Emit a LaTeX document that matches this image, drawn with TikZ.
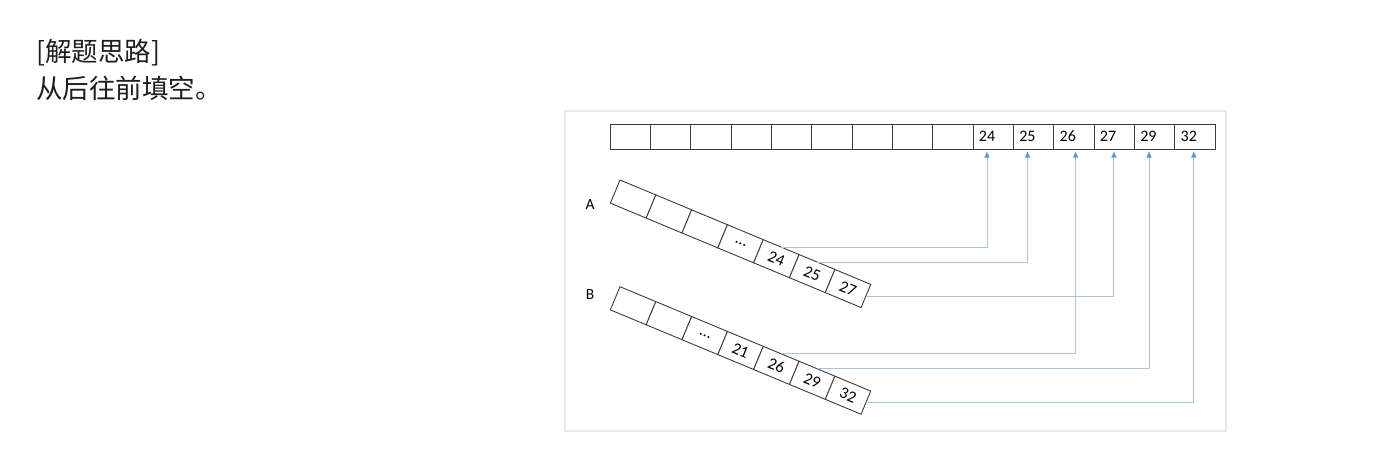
\documentclass[tikz,border=0pt]{standalone}
\usepackage{fontspec}
\setmainfont{Carlito}
\newfontfamily\cjk{Noto Sans CJK SC}
\usetikzlibrary{arrows.meta}
\definecolor{connc}{RGB}{165,198,232}
\definecolor{tipc}{RGB}{91,155,213}
\definecolor{ink}{RGB}{30,30,30}
\definecolor{cellline}{RGB}{60,60,60}
\definecolor{framec}{RGB}{232,232,232}
\begin{document}
\begin{tikzpicture}[x=1pt,y=-1pt,
  topcell/.style={draw=cellline,line width=0.9pt,fill=white,minimum height=25pt,
    inner xsep=6pt,inner ysep=0pt,outer sep=0pt,text width=28.33pt,align=left,
    anchor=north west,font=\fontsize{16}{16}\selectfont,text=black},
  tcell/.style={draw=cellline,line width=0.9pt,fill=white,minimum width=38.8pt,
    minimum height=25.1pt,inner sep=0pt,outer sep=0pt,
    font=\fontsize{16.5}{16.5}\selectfont,text=black},
  lbl/.style={font=\fontsize{15.5}{15.5}\selectfont,text=black,inner sep=0pt},
  cjktext/.style={anchor=base west,inner sep=0pt,text=ink,font=\cjk\fontsize{26.5}{26.5}\selectfont},
  connector/.style={draw=connc,line width=0.9pt,shorten >=2.5pt,
    -{Triangle[width=5pt,length=6pt,color=tipc]}}
]
\useasboundingbox (0,0) rectangle (1388,460);
\fill[white] (0,0) rectangle (1388,460);

% heading text
\node[cjktext] (t1) at (36,62) {[解题思路]};
\node[cjktext] (t2) at (36,98) {从后往前填空。};

% frame
\draw[framec,line width=2pt] (565,111) rectangle (1226,431);

% top array
\foreach \t [count=\i from 0] in {{},{},{},{},{},{},{},{},{},24,25,26,27,29,32}
  \node[topcell] (T\i) at ({610+40.33*\i},124) {\t};

% tilted arrays
\begin{scope}[shift={(620,180)},rotate=-22.6,transform shape]
  \foreach \t [count=\i from 0] in {{},{},{},\ldots,24,25,27}
    \node[tcell] (A\i) at ({38.8*(\i+0.5)},12.55) {\t};
\end{scope}
\begin{scope}[shift={(620,286.7)},rotate=-22.6,transform shape]
  \foreach \t [count=\i from 0] in {{},{},\ldots,21,26,29,32}
    \node[tcell] (B\i) at ({38.8*(\i+0.5)},12.55) {\t};
\end{scope}

\node[lbl] (la) at (590,204.3) {A};
\node[lbl] (lb) at (590,294.7) {B};

% connectors
\draw[connector] (A4.north) -| ([xshift=-6.2pt]T9.south);
\draw[connector] (A5.north) -| ([xshift=-6pt]T10.south);
\draw[connector] (A6.east) -| ([xshift=-0.2pt]T12.south);
\draw[connector] (B4.north) -| ([xshift=1.8pt]T11.south);
\draw[connector] (B5.north) -| ([xshift=-5.5pt]T13.south);
\draw[connector] (B6.east) -| ([xshift=-1pt]T14.south);
\end{tikzpicture}
\end{document}
